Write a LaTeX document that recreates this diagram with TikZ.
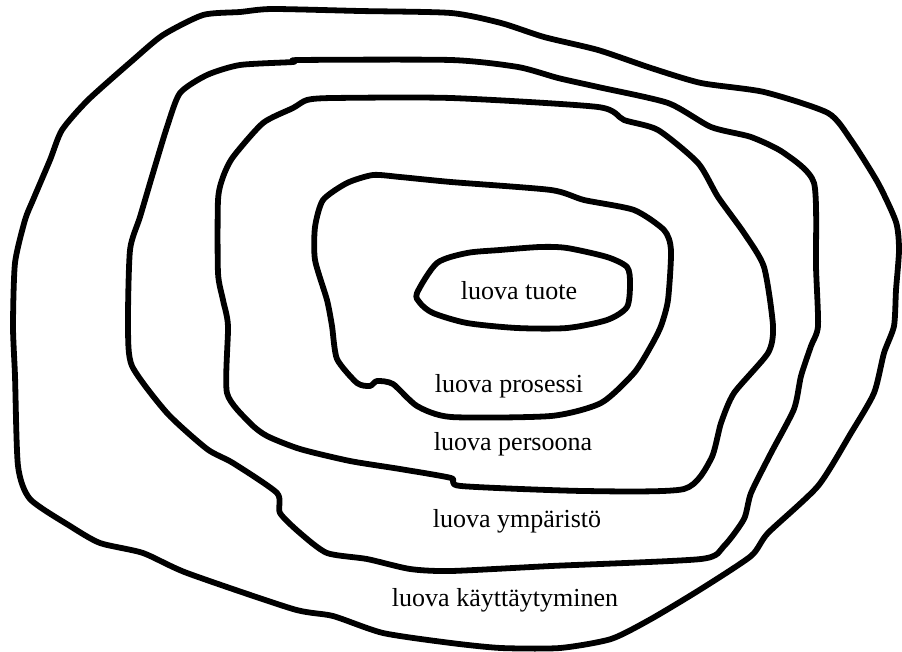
\documentclass[tikz,border=0pt]{standalone}
\usepackage{fontspec}
\setmainfont{Liberation Serif}
\begin{document}
\begin{tikzpicture}[x=0.02cm,y=-0.02cm,
  contour/.style={line width=3.3pt, line join=round, line cap=round},
  lbl/.style={font=\fontsize{14.8}{16}\selectfont, anchor=base, inner sep=0pt}]
\useasboundingbox (0,0) rectangle (902,652);
% outer: luova kayttaytyminen
\draw[contour] plot[smooth cycle, tension=0.4] coordinates {
(272,9) (360,11) (451,13) (501,23) (544,37) (598,50) (651,68) (701,83) (764,92) (828,113) (851,140) (878,183) (896,222) (899,250) (896,290) (894,326) (884,353) (874,393) (851,433) (818,486) (768,533) (751,556) (701,589) (651,619) (611,639) (560,648) (501,648) (451,643) (383,633) (333,616) (293,609) (187,573) (143,553) (100,543) (70,526) (30,499) (18,466) (15,376) (13,326) (15,263) (25,220) (33,200) (50,160) (62,130) (88,100) (133,60) (163,35) (203,15) (240,12)};
% luova ymparisto
\draw[contour] plot[smooth cycle, tension=0.4] coordinates {
(300,60) (451,60) (518,67) (558,78) (598,87) (668,103) (711,127) (751,137) (784,153) (814,183) (816,267) (818,326) (811,346) (801,376) (794,409) (771,453) (751,493) (744,519) (724,546) (701,559) (551,566) (451,571) (410,569) (367,559) (327,553) (300,533) (280,513) (277,493) (233,463) (207,449) (167,413) (132,366) (128,326) (130,250) (140,217) (153,173) (167,127) (180,93) (207,75) (240,65) (293,62)};
% luova persoona
\draw[contour] plot[smooth cycle, tension=0.4] coordinates {
(333,98) (451,98) (598,107) (624,120) (658,130) (698,163) (718,197) (744,233) (764,267) (773,326) (768,353) (734,393) (721,423) (711,459) (684,489) (584,491) (461,486) (451,478) (400,469) (350,461) (300,449) (267,436) (250,423) (227,393) (228,326) (223,300) (218,273) (218,200) (223,177) (233,157) (263,123) (293,108) (307,100)};
% luova prosessi
\draw[contour] plot[smooth cycle, tension=0.4] coordinates {
(373,175) (400,177) (451,182) (551,190) (584,200) (634,210) (664,230) (671,250) (668,300) (661,326) (651,346) (634,373) (601,403) (551,416) (451,417) (417,406) (393,384) (377,381) (370,386) (357,383) (337,359) (332,326) (327,300) (315,260) (315,227) (323,200) (347,183)};
% luova tuote
\draw[contour] plot[smooth cycle, tension=0.45] coordinates {
(417,293) (437,263) (467,253) (500,250) (540,247) (567,248) (607,257) (627,267) (630,283) (627,307) (607,320) (567,328) (517,328) (467,323) (433,313) (420,303)};
\node[lbl] (tuote) at (519,299) {luova tuote};
\node[lbl] (prosessi) at (509,392) {luova prosessi};
\node[lbl] (persoona) at (513,450) {luova persoona};
\node[lbl] (ymparisto) at (517,527) {luova ympäristö};
\node[lbl] (kayttaytyminen) at (505,606) {luova käyttäytyminen};
\end{tikzpicture}
\end{document}
